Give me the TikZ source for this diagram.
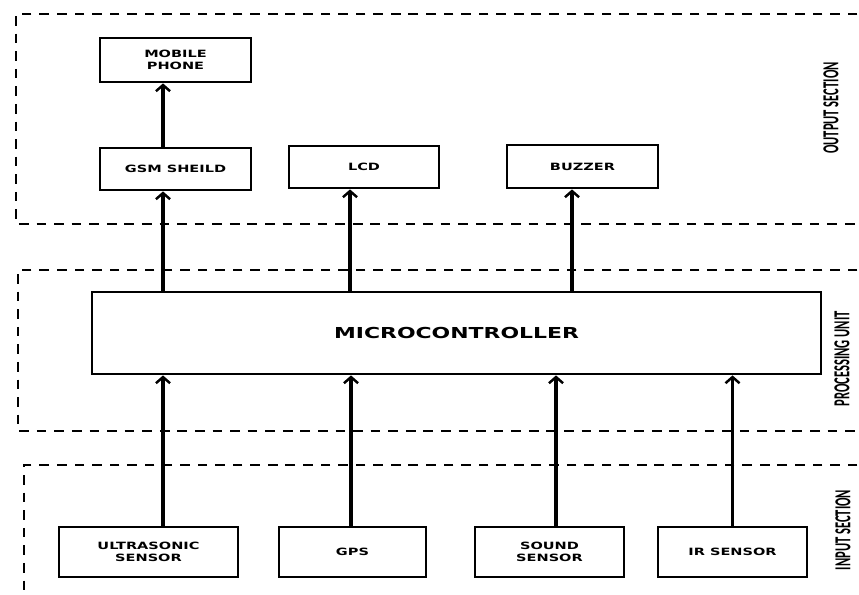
\documentclass[tikz,border=0pt]{standalone}
\usepackage{fontspec}
\usepackage{tikz}
\usetikzlibrary{arrows.meta}
\newfontfamily\boxfont[FakeStretch=1.45]{DejaVu Sans}
\newfontfamily\secfont[FakeStretch=0.55]{Carlito}

\begin{document}
\begin{tikzpicture}[x=0.2mm, y=-0.2mm,
    blk/.style={draw, line width=1.6pt, rectangle, align=center, inner sep=0pt,
                font=\boxfont\bfseries\fontsize{5.7}{6.8}\selectfont},
    section/.style={line width=1.5pt, dash pattern=on 5.5pt off 4.5pt},
    seclabel/.style={rotate=90, inner sep=0pt, font=\secfont\bfseries\fontsize{13}{14}\selectfont},
    flow/.style={-{Straight Barb[length=3.5pt, width=8pt, line width=1.4pt]}, line width=2pt}]
    \useasboundingbox (0,0) rectangle (859,594);
    % dashed section frames
    \draw[section] (875,14) -- (16,14) -- (16,224) -- (875,224);
    \draw[section] (875,270) -- (18,270) -- (18,431) -- (875,431);
    \draw[section] (875,465) -- (24,465) -- (24,610);
    \node[seclabel] (outlbl) at (831,108) {OUTPUT SECTION};
    \node[seclabel] (proclbl) at (842,359) {PROCESSING UNIT};
    \node[seclabel] (inlbl) at (843,530) {INPUT SECTION};
    % output section
    \node[blk, minimum width=30.2mm, minimum height=8.8mm] (mobile) at (175.5,60) {MOBILE\\PHONE};
    \node[blk, minimum width=30.2mm, minimum height=8.4mm] (gsm) at (175.5,169) {GSM SHEILD};
    \node[blk, minimum width=30mm, minimum height=8.4mm] (lcd) at (364,167) {LCD};
    \node[blk, minimum width=30.2mm, minimum height=8.6mm] (buzzer) at (582.5,166.5) {BUZZER};
    % processing unit
    \node[blk, minimum width=145.8mm, minimum height=16.4mm,
          font=\boxfont\bfseries\fontsize{8.6}{9.6}\selectfont] (micro) at (456.5,333) {MICROCONTROLLER};
    % input section
    \node[blk, minimum width=35.8mm, minimum height=10mm] (ultra) at (148.5,552) {ULTRASONIC\\SENSOR};
    \node[blk, minimum width=29.4mm, minimum height=10mm] (gps) at (352.5,552) {GPS};
    \node[blk, minimum width=29.8mm, minimum height=10mm] (sound) at (549.5,552) {SOUND\\SENSOR};
    \node[blk, minimum width=29.8mm, minimum height=10mm] (ir) at (732.5,552) {IR SENSOR};
    % sensors to microcontroller
    \draw[flow] ([xshift=2.9mm]ultra.north) -- ([xshift=2.9mm]ultra.north |- micro.south);
    \draw[flow] ([xshift=-0.3mm]gps.north) -- ([xshift=-0.3mm]gps.north |- micro.south);
    \draw[flow] ([xshift=1.3mm]sound.north) -- ([xshift=1.3mm]sound.north |- micro.south);
    \draw[flow] (ir.north) -- (ir.north |- micro.south);
    % microcontroller to outputs
    \draw[flow] ([xshift=-2.5mm]gsm.south |- micro.north) -- ([xshift=-2.5mm]gsm.south);
    \draw[flow] ([xshift=-2.8mm]lcd.south |- micro.north) -- ([xshift=-2.8mm]lcd.south);
    \draw[flow] ([xshift=-2.1mm]buzzer.south |- micro.north) -- ([xshift=-2.1mm]buzzer.south);
    \draw[flow] ([xshift=-2.5mm]gsm.north) -- ([xshift=-2.5mm]mobile.south);
\end{tikzpicture}
\end{document}
